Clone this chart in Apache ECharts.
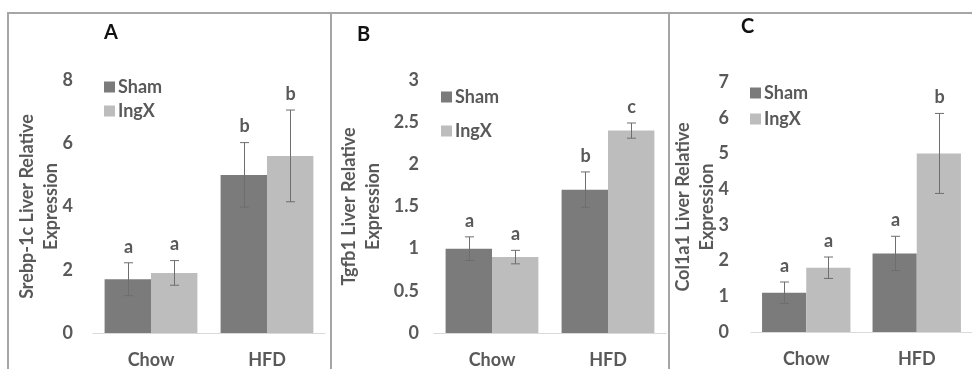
<!DOCTYPE html>
<html><head><meta charset="utf-8">
<script src="https://cdn.jsdelivr.net/npm/echarts@6/dist/echarts.min.js"></script>
<style>html,body{margin:0;padding:0;background:#fff}#c{width:972px;height:369px}</style>
</head><body><div id="c"></div>
<script>
// ---------- data ----------
const categories = ['Chow', 'HFD'];
const seriesNames = ['Sham', 'IngX'];
const panelTitles = ['A', 'B', 'C'];
const yNames = ['Srebp-1c Liver Relative\nExpression', 'Tgfb1 Liver Relative\nExpression', 'Col1a1 Liver Relative\nExpression'];
const yMax = [8, 3, 7];
const yInterval = [2, 0.5, 1];

// Panel A: Srebp-1c
const shamA = [1.7, 5.0];
const ingxA = [1.9, 5.6];
const shamAErr = [0.52, 1.02];
const ingxAErr = [0.39, 1.45];
const shamALetters = ['a', 'b'];
const ingxALetters = ['a', 'b'];

// Panel B: Tgfb1
const shamB = [1.0, 1.7];
const ingxB = [0.9, 2.4];
const shamBErr = [0.14, 0.21];
const ingxBErr = [0.08, 0.09];
const shamBLetters = ['a', 'b'];
const ingxBLetters = ['a', 'c'];

// Panel C: Col1a1
const shamC = [1.1, 2.2];
const ingxC = [1.8, 5.0];
const shamCErr = [0.3, 0.48];
const ingxCErr = [0.3, 1.12];
const shamCLetters = ['a', 'a'];
const ingxCLetters = ['a', 'b'];

// ---------- styling / layout ----------
const FONT = 'Lato';
const GREY_TXT = '#595959';
const SHAM_COL = '#7b7b7b';
const INGX_COL = '#bdbdbd';
const FS = 18;

const grids = [
  {left: 93, top: 80, width: 232, height: 253},
  {left: 434, top: 80, width: 232, height: 253},
  {left: 751, top: 82, width: 224, height: 250}
];
const labelMargins = [20, 15, 22];
const nameGaps = [30, 49, 32];
const legendPos = [
  {left: 104, top: 78, itemGap: 6},
  {left: 441, top: 88, itemGap: 16},
  {left: 750, top: 84, itemGap: 8}
];
const titlePos = [
  {left: 104, top: 23},
  {left: 357, top: 25},
  {left: 741, top: 17}
];

function errSeries(name, vals, errs, letters, side, idx) {
  return {
    type: 'custom', name: name, xAxisIndex: idx, yAxisIndex: idx, z: 5,
    silent: true,
    data: vals.map((v, i) => [i, v, errs[i]]),
    renderItem: function (params, api) {
      const i = api.value(0), v = api.value(1), e = api.value(2);
      const band = api.size([1, 0])[0];
      const off = side * band * 0.2;
      const top = api.coord([i, v + e]);
      const bot = api.coord([i, v - e]);
      const x = Math.round(top[0] + off) + 0.5;
      const cap = 4.5;
      const st = {stroke: '#6e6e6e', lineWidth: 1};
      return {
        type: 'group', children: [
          {type: 'line', shape: {x1: x, y1: top[1], x2: x, y2: bot[1]}, style: st},
          {type: 'line', shape: {x1: x - cap, y1: top[1], x2: x + cap, y2: top[1]}, style: st},
          {type: 'line', shape: {x1: x - cap, y1: bot[1], x2: x + cap, y2: bot[1]}, style: st},
          {type: 'text', x: x, y: top[1] - 16, style: {
            text: letters[params.dataIndex], fill: GREY_TXT,
            font: 'bold ' + FS + 'px ' + FONT, align: 'center', verticalAlign: 'middle'}}
        ]
      };
    }
  };
}

const panels = [
  [shamA, ingxA, shamAErr, ingxAErr, shamALetters, ingxALetters],
  [shamB, ingxB, shamBErr, ingxBErr, shamBLetters, ingxBLetters],
  [shamC, ingxC, shamCErr, ingxCErr, shamCLetters, ingxCLetters]
];

const xAxes = [], yAxes = [], series = [], legends = [], titles = [];
panels.forEach((p, k) => {
  xAxes.push({
    type: 'category', gridIndex: k, data: categories,
    axisLine: {show: true, lineStyle: {color: '#d9d9d9', width: 1}},
    axisTick: {show: false},
    axisLabel: {color: GREY_TXT, fontFamily: FONT, fontWeight: 'bold', fontSize: FS, margin: 18}
  });
  yAxes.push({
    type: 'value', gridIndex: k, min: 0, max: yMax[k], interval: yInterval[k],
    splitLine: {show: false}, axisLine: {show: false}, axisTick: {show: false},
    axisLabel: {color: GREY_TXT, fontFamily: FONT, fontWeight: 'bold', fontSize: FS, margin: labelMargins[k]},
    name: yNames[k], nameLocation: 'middle', nameGap: nameGaps[k], nameMoveOverlap: false,
    nameTextStyle: {color: GREY_TXT, fontFamily: FONT, fontWeight: 'bold', fontSize: FS, lineHeight: 24}
  });
  series.push({
    type: 'bar', name: seriesNames[0], xAxisIndex: k, yAxisIndex: k, data: p[0],
    barCategoryGap: '20%', barGap: '0%', itemStyle: {color: SHAM_COL}, silent: true
  });
  series.push({
    type: 'bar', name: seriesNames[1], xAxisIndex: k, yAxisIndex: k, data: p[1],
    barCategoryGap: '20%', barGap: '0%', itemStyle: {color: INGX_COL}, silent: true
  });
  series.push(errSeries('Sham err', p[0], p[2], p[4], -1, k));
  series.push(errSeries('IngX err', p[1], p[3], p[5], 1, k));
  legends.push({
    data: seriesNames, orient: 'vertical', left: legendPos[k].left, top: legendPos[k].top,
    itemGap: legendPos[k].itemGap, itemWidth: 11, itemHeight: 11, icon: 'rect', padding: 0,
    selectedMode: false,
    textStyle: {color: GREY_TXT, fontFamily: FONT, fontWeight: 'bold', fontSize: FS, lineHeight: 18, padding: [0, 0, 0, -2]}
  });
  titles.push({
    text: panelTitles[k], left: titlePos[k].left, top: titlePos[k].top, padding: 0,
    textStyle: {color: '#111', fontFamily: FONT, fontWeight: 'bold', fontSize: 20}
  });
});

const borderStyle = {stroke: '#a6a6a6', lineWidth: 2};
const option = {
  animation: false,
  backgroundColor: '#fff',
  title: titles,
  legend: legends,
  grid: grids,
  xAxis: xAxes,
  yAxis: yAxes,
  series: series,
  graphic: [
    {type: 'line', shape: {x1: 7, y1: 13, x2: 972, y2: 13}, style: borderStyle, silent: true},
    {type: 'line', shape: {x1: 8, y1: 13, x2: 8, y2: 369}, style: borderStyle, silent: true},
    {type: 'line', shape: {x1: 331, y1: 13, x2: 331, y2: 369}, style: borderStyle, silent: true},
    {type: 'line', shape: {x1: 669, y1: 13, x2: 669, y2: 369}, style: borderStyle, silent: true}
  ]
};
echarts.init(document.getElementById('c')).setOption(option);
</script>
</body></html>
